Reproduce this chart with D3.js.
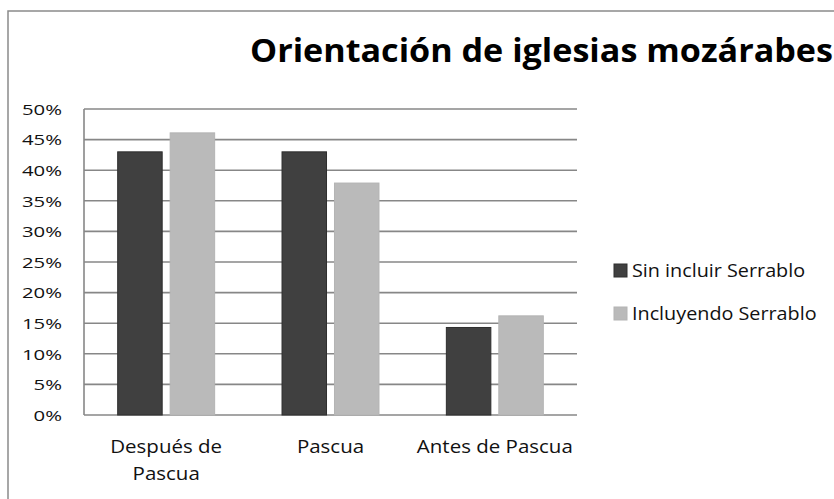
<!DOCTYPE html>
<html><head><meta charset="utf-8">
<script src="https://cdn.jsdelivr.net/npm/d3@7"></script>
<style>html,body{margin:0;padding:0;background:#fff;overflow:hidden}</style>
</head><body>
<svg id="chart" width="834" height="499"></svg>
<script>
const title = "Orientación de iglesias mozárabes";
const categories = [["Después de", "Pascua"], ["Pascua"], ["Antes de Pascua"]];
const categoryKeys = ["Después de Pascua", "Pascua", "Antes de Pascua"];
const seriesNames = ["Sin incluir Serrablo", "Incluyendo Serrablo"];
const sinIncluir = [0.43, 0.43, 0.143];
const incluyendo = [0.461, 0.379, 0.162];
const yTicks = [0, 0.05, 0.10, 0.15, 0.20, 0.25, 0.30, 0.35, 0.40, 0.45, 0.50];
const colors = ["#404040", "#bababa"];
const strokes = ["#2e2e2e", "#b4b4b4"];

const FONT = "'Open Sans', 'Noto Sans', sans-serif";
const svg = d3.select("#chart");

function stretch(sel, k) {
  sel.each(function() {
    const w = this.getComputedTextLength();
    d3.select(this).attr("textLength", w * k).attr("lengthAdjust", "spacingAndGlyphs");
  });
}

svg.append("rect").attr("x", 8).attr("y", 11).attr("width", 900).attr("height", 600)
  .attr("fill", "#fff").attr("stroke", "#8a8a8a").attr("stroke-width", 1.5);

const plot = {left: 84, right: 577, top: 109, bottom: 415};

const y = d3.scaleLinear().domain([0, 0.5]).range([plot.bottom, plot.top]);
const x0 = d3.scaleBand().domain(categoryKeys).range([plot.left, plot.right])
  .paddingInner(0.41).paddingOuter(0.205);
const x1 = d3.scaleBand().domain(seriesNames).range([0, x0.bandwidth()])
  .paddingInner(0.152).paddingOuter(0);

svg.append("g").selectAll("line").data(yTicks).join("line")
  .attr("x1", plot.left).attr("x2", plot.right)
  .attr("y1", d => y(d)).attr("y2", d => y(d))
  .attr("stroke", "#878787").attr("stroke-width", 1.6);

svg.append("line").attr("x1", plot.left).attr("x2", plot.left)
  .attr("y1", y(0.5)).attr("y2", y(0))
  .attr("stroke", "#878787").attr("stroke-width", 1.6);

const yAxis = d3.axisLeft(y).tickValues(yTicks).tickFormat(d3.format(".0%")).tickSize(0).tickPadding(0);
const gy = svg.append("g").attr("transform", `translate(62,0)`).call(yAxis);
gy.select(".domain").remove();
gy.selectAll("text").attr("font-family", FONT).attr("font-size", 14.5).attr("fill", "#111")
  .attr("dy", "0.36em");
stretch(gy.selectAll("text"), 1.4);

const data = categoryKeys.map((c, i) => ({cat: c, vals: [sinIncluir[i], incluyendo[i]]}));
const groups = svg.append("g").selectAll("g").data(data).join("g")
  .attr("transform", d => `translate(${x0(d.cat)},0)`);
groups.selectAll("rect").data(d => d.vals.map((v, j) => ({v, j, s: seriesNames[j]}))).join("rect")
  .attr("x", d => x1(d.s)).attr("width", x1.bandwidth())
  .attr("y", d => y(d.v)).attr("height", d => y(0) - y(d.v))
  .attr("fill", d => colors[d.j]).attr("stroke", d => strokes[d.j]).attr("stroke-width", 1);

const cl = svg.append("g");
categories.forEach((lines, i) => {
  const cx = x0(categoryKeys[i]) + x0.bandwidth() / 2;
  lines.forEach((ln, k) => {
    const t = cl.append("text").attr("x", cx).attr("y", 453 + k * 27)
      .attr("text-anchor", "middle").attr("font-family", FONT).attr("font-size", 17.5)
      .attr("fill", "#111").text(ln);
    stretch(t, 1.17);
  });
});

const tt = svg.append("text").attr("x", 250).attr("y", 62).attr("font-family", FONT)
  .attr("font-size", 33).attr("font-weight", "bold").attr("fill", "#000").text(title);
tt.attr("textLength", 583).attr("lengthAdjust", "spacingAndGlyphs");

const lg = svg.append("g");
seriesNames.forEach((s, i) => {
  const yy = 264 + i * 43;
  lg.append("rect").attr("x", 614).attr("y", yy).attr("width", 13).attr("height", 13)
    .attr("fill", colors[i]).attr("stroke", strokes[i]).attr("stroke-width", 1);
  const t = lg.append("text").attr("x", 632).attr("y", yy + 13).attr("font-family", FONT)
    .attr("font-size", 17.5).attr("fill", "#111").text(s);
  stretch(t, 1.13);
});
</script>
</body></html>
